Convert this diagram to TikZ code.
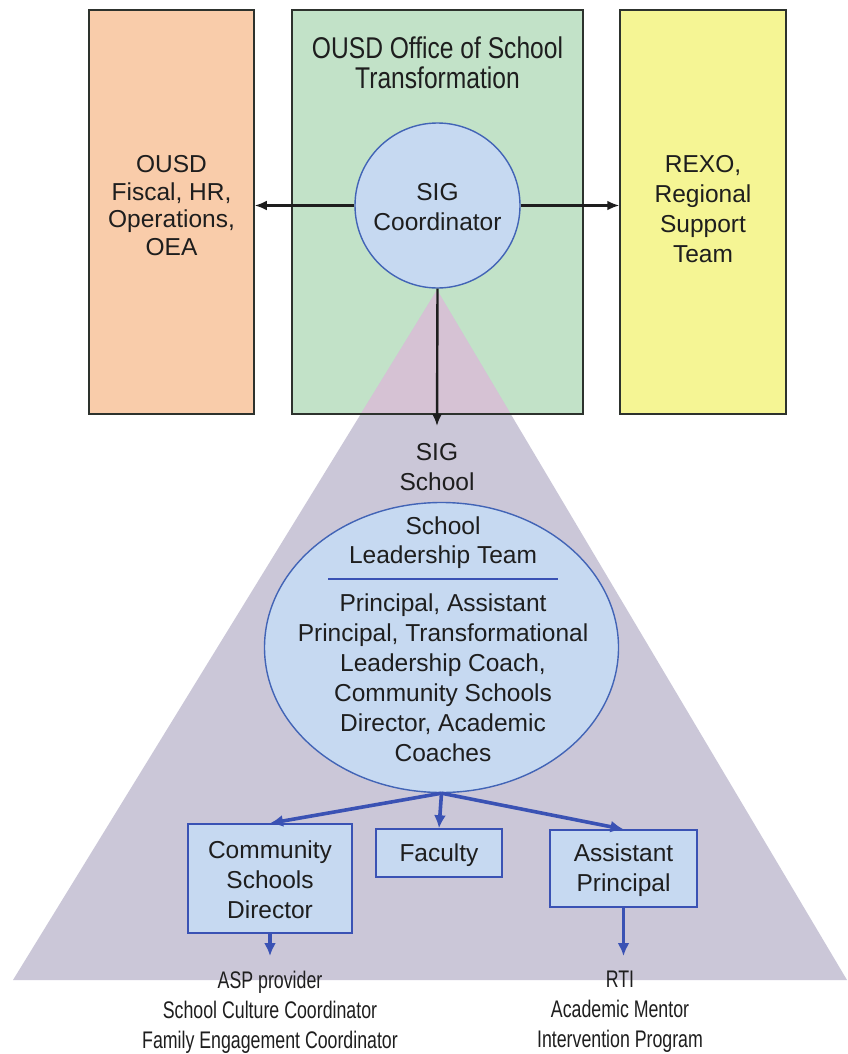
\documentclass[tikz,border=0pt]{standalone}
\usepackage{fontspec}
\setmainfont{Liberation Sans}
\newfontfamily\narrowfont{Liberation Sans}[FakeStretch=0.82]
\newfontfamily\condensedfont{Liberation Sans}[FakeStretch=0.74]
\usetikzlibrary{shapes.geometric,arrows.meta}

\definecolor{fiscalfill}{RGB}{249,204,170}
\definecolor{officefill}{RGB}{194,226,200}
\definecolor{rexofill}{RGB}{245,245,148}
\definecolor{pyramid}{RGB}{203,199,216}
\definecolor{pyramidtop}{RGB}{214,194,212}
\definecolor{bubble}{RGB}{198,217,241}
\definecolor{bubbleline}{RGB}{66,100,182}
\definecolor{roleline}{RGB}{58,82,180}
\definecolor{frame}{RGB}{45,50,45}
\definecolor{ink}{RGB}{30,30,30}

\tikzset{
  panel/.style={draw=frame, line width=1.5pt, rectangle, inner sep=0pt},
  label/.style={align=center, text=ink, inner sep=0pt, font=\fontsize{24.5}{30}\selectfont},
  tight/.style={align=center, text=ink, inner sep=0pt, font=\fontsize{24.5}{27.7}\selectfont},
  narrow/.style={align=center, text=ink, inner sep=0pt, font=\condensedfont\fontsize{24}{30}\selectfont},
  role/.style={draw=roleline, line width=1.5pt, fill=bubble, rectangle, inner sep=0pt},
  link/.style={draw=ink, line width=2.4pt, -{Latex[length=12pt,width=10pt]}},
  rolelink/.style={draw=roleline, line width=3.6pt, -{Latex[length=13pt,width=12pt]}}
}

\begin{document}
\begin{tikzpicture}[x=1pt,y=-1pt]
\useasboundingbox[fill=white] (0,0) rectangle (847,1054);

% three top-level units (the office frame is stroked after the pyramid)
\node[panel, fill=fiscalfill, minimum width=165pt, minimum height=404pt] (fiscal) at (171.5,212) {};
\node[rectangle, inner sep=0pt, fill=officefill, minimum width=291pt, minimum height=404pt] (office) at (437.5,212) {};
\node[panel, fill=rexofill, minimum width=166pt, minimum height=404pt] (rexo) at (703,212) {};

% the school pyramid
\coordinate (apex) at (437,290);
\coordinate (baseL) at (13,980);
\coordinate (baseR) at (847,980);
\fill[pyramid] (apex) -- (baseL) -- (baseR) -- cycle;
\begin{scope}
  \clip (office.north west) rectangle (office.south east);
  \fill[pyramidtop] (apex) -- (baseL) -- (baseR) -- cycle;
\end{scope}
\draw[frame, line width=1.5pt] (office.north west) rectangle (office.south east);

% labels of the units
\node[tight] (fiscaltxt) at (171.5,205.5) {OUSD\\Fiscal, HR,\\Operations,\\OEA};
\node[label] (rexotxt) at (703,209) {REXO,\\Regional\\Support\\Team};
\node[align=center, text=ink, inner sep=0pt, font=\narrowfont\fontsize{30}{30}\selectfont] (officetxt) at (437.5,63) {OUSD Office of School\\Transformation};

% coordinator
\node[circle, draw=bubbleline, line width=1.4pt, fill=bubble, minimum size=165pt, inner sep=0pt] (coord) at (437.5,205.5) {};
\node[label] (coordtxt) at (437.5,207) {SIG\\Coordinator};

\draw[link] (coord.west) -- (coord.west -| fiscal.east);
\draw[link] (coord.east) -- (coord.east -| rexo.west);

% school
\node[label] (school) at (437,467) {SIG\\School};
\coordinate (schooltop) at (437,426);
\draw[link] (coord.south) -- (schooltop);

% leadership team
\node[ellipse, draw=bubbleline, line width=1.4pt, fill=bubble, minimum width=354pt, minimum height=290pt, inner sep=0pt] (team) at (441.5,647.5) {};
\node[label, font=\fontsize{24.5}{29}\selectfont] (teamtitle) at (443,542.5) {School\\Leadership Team};
\draw[roleline, line width=1.6pt] (328,579) -- (558,579);
\node[label] (members) at (443,678) {Principal, Assistant\\Principal, Transformational\\Leadership Coach,\\Community Schools\\Director, Academic\\Coaches};

% roles reporting to the team
\node[role, minimum width=164pt, minimum height=109pt] (csd) at (270,878.5) {};
\node[label] (csdtxt) at (270,880) {Community\\Schools\\Director};
\node[role, minimum width=126pt, minimum height=48pt] (faculty) at (439,853) {};
\node[label] (facultytxt) at (439,855) {Faculty};
\node[role, minimum width=147pt, minimum height=77pt] (ap) at (623.5,868.5) {};
\node[label] (aptxt) at (623.5,870) {Assistant\\Principal};

\draw[rolelink] (team.south) -- (csd.north);
\draw[rolelink] (team.south) -- (faculty.north);
\draw[rolelink] (team.south) -- (ap.north);

% programmes under each role
\coordinate (csdend) at (270,956);
\coordinate (apend) at (623.5,956);
\draw[rolelink] (csd.south) -- (csdend);
\draw[rolelink] (ap.south) -- (apend);

\node[narrow] (csdlist) at (270,1012) {ASP provider\\School Culture Coordinator\\Family Engagement Coordinator};
\node[narrow] (aplist) at (620,1012) {RTI\\Academic Mentor\\Intervention Program};
\end{tikzpicture}
\end{document}
